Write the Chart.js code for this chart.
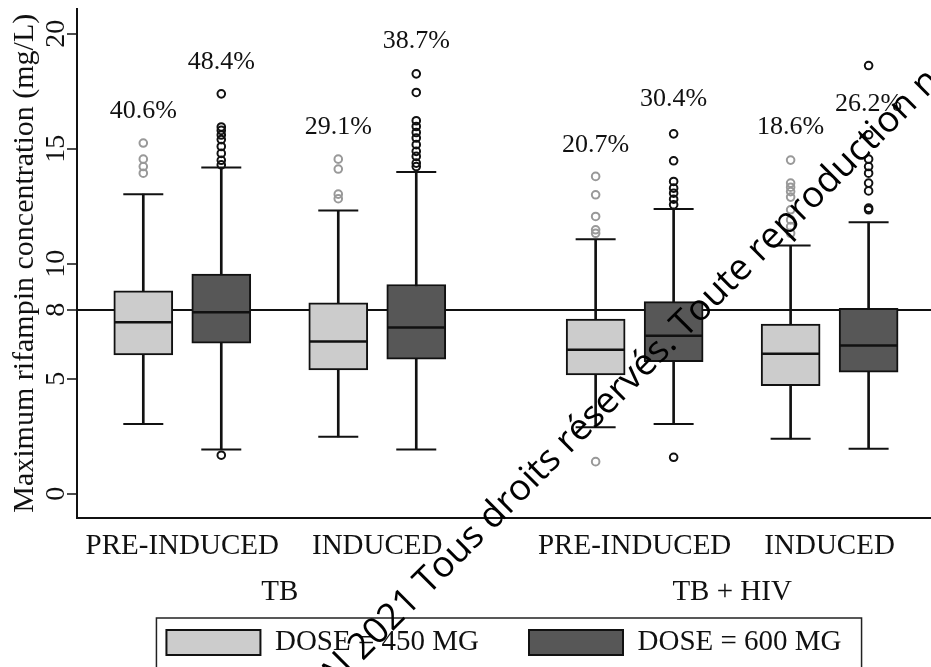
<!DOCTYPE html>
<html>
<head>
<meta charset="utf-8">
<title>Maximum rifampin concentration by dose</title>
<script src="https://cdn.jsdelivr.net/npm/chart.js@4.4.1/dist/chart.umd.min.js"></script>
<style>
  html, body { margin: 0; padding: 0; background: #fff; }
  #wrap { width: 931px; height: 667px; }
</style>
</head>
<body>
<div id="wrap"><canvas id="cmaxChart" width="931" height="667"></canvas></div>
<script>
// --- Data ---
const phases = ['PRE-INDUCED', 'INDUCED', 'PRE-INDUCED', 'INDUCED'];
const populations = ['TB', 'TB + HIV'];
const doseLabels = ['DOSE = 450 MG', 'DOSE = 600 MG'];
const yTicks = [0, 5, 8, 10, 15, 20];
const target = 8; // mg/L

// 450 mg, columns: TB pre, TB induced, TB+HIV pre, TB+HIV induced
const low450 = [3.04, 2.48, 2.90, 2.39];
const q1_450 = [6.04, 5.39, 5.17, 4.70];
const med450 = [7.46, 6.62, 6.26, 6.09];
const q3_450 = [8.83, 8.30, 7.60, 7.38];
const high450 = [13.03, 12.32, 11.07, 10.80];
const out450 = [
    [15.25, 14.55, 14.23, 13.94],
    [14.55, 14.12, 13.03, 12.83],
    [13.80, 13.00, 12.06, 11.48, 11.33, 1.40],
    [14.51, 13.51, 13.33, 13.14, 12.90, 12.35, 11.91, 11.62, 11.33]
];
const pct450 = [40.6, 29.1, 20.7, 18.6];

// 600 mg
const low600 = [1.93, 1.93, 3.04, 1.96];
const q1_600 = [6.55, 5.86, 5.75, 5.29];
const med600 = [7.90, 7.23, 6.87, 6.45];
const q3_600 = [9.55, 9.10, 8.36, 8.07];
const high600 = [14.19, 13.99, 12.38, 11.81];
const out600 = [
    [17.39, 15.95, 15.80, 15.60, 15.40, 15.10, 14.80, 14.50, 14.30, 1.68],
    [18.26, 17.45, 16.22, 15.97, 15.71, 15.47, 15.18, 14.89, 14.67, 14.38, 14.23],
    [15.65, 14.48, 13.58, 13.29, 13.07, 12.81, 12.57, 1.59],
    [18.62, 15.61, 14.55, 14.23, 13.94, 13.51, 13.17, 12.42, 12.35]
];
const pct600 = [48.4, 38.7, 30.4, 26.2];

// --- Layout ---
const SERIF = '"Liberation Serif", "Times New Roman", serif';
const INK = '#111';
const slot450 = [1, 3.5, 6.8, 9.3];
const slot600 = [2, 4.5, 7.8, 10.3];
const pairMid = slot450.map((s, i) => (s + slot600[i]) / 2);
const groupMid = [(pairMid[0] + pairMid[1]) / 2, (pairMid[2] + pairMid[3]) / 2];
const X_MIN = 0.15, X_MAX = 11.1;
// heights (in mg/L) where the percentage notes sit
const pctAt450 = [16.65, 15.93, 15.16, 15.96];
const pctAt600 = [18.76, 19.70, 17.14, 16.95];

function doseSeries(label, slots, s, fill, dot) {
    return [
        {   // whiskers
            type: 'bar', label: label + ' whisker', xAxisID: 'x',
            data: slots.map((x, i) => ({ x, y: [s.low[i], s.high[i]] })),
            backgroundColor: INK, borderWidth: 0,
            barThickness: 2, maxBarThickness: 2, grouped: false, order: 10
        },
        {   // interquartile box
            type: 'bar', label, xAxisID: 'x',
            data: slots.map((x, i) => ({ x, y: [s.q1[i], s.q3[i]] })),
            backgroundColor: fill, borderColor: INK, borderWidth: 2, borderSkipped: false,
            barThickness: 59, maxBarThickness: 59, grouped: false, order: 5
        },
        {   // median
            type: 'scatter', label: label + ' median', xAxisID: 'x',
            data: slots.map((x, i) => ({ x, y: s.med[i] })),
            pointStyle: 'line', pointRadius: 29, borderColor: INK, borderWidth: 2.5, order: 2
        },
        {   // whisker caps
            type: 'scatter', label: label + ' caps', xAxisID: 'x',
            data: slots.flatMap((x, i) => [{ x, y: s.low[i] }, { x, y: s.high[i] }]),
            pointStyle: 'line', pointRadius: 20, borderColor: INK, borderWidth: 2, order: 2
        },
        {   // outside values
            type: 'scatter', label: label + ' outliers', xAxisID: 'x',
            data: slots.flatMap((x, i) => s.out[i].map(y => ({ x, y }))),
            pointStyle: 'circle', pointRadius: 3.8, borderColor: dot, borderWidth: 2,
            backgroundColor: 'rgba(0,0,0,0)', order: 1
        }
    ];
}

const datasets = [
    ...doseSeries(doseLabels[0], slot450,
        { low: low450, q1: q1_450, med: med450, q3: q3_450, high: high450, out: out450 },
        '#cccccc', '#999999'),
    ...doseSeries(doseLabels[1], slot600,
        { low: low600, q1: q1_600, med: med600, q3: q3_600, high: high600, out: out600 },
        '#575757', INK)
];

// --- Plugins ---
const pctNotes = {
    id: 'pctNotes',
    afterDatasetsDraw(chart) {
        const { ctx, scales: { x, y } } = chart;
        ctx.save();
        ctx.font = '26px ' + SERIF;
        ctx.fillStyle = INK;
        ctx.textAlign = 'center';
        ctx.textBaseline = 'middle';
        [[slot450, pct450, pctAt450], [slot600, pct600, pctAt600]].forEach(([slots, pct, at]) => {
            slots.forEach((sx, i) => {
                ctx.fillText(pct[i].toFixed(1) + '%', x.getPixelForValue(sx), y.getPixelForValue(at[i]));
            });
        });
        ctx.restore();
    }
};

const legendFrame = {
    id: 'legendFrame',
    afterDraw(chart) {
        const hb = chart.legend && chart.legend.legendHitBoxes;
        if (!hb || !hb.length) return;
        const first = hb[0], last = hb[hb.length - 1];
        const left = first.left - 10;
        const right = last.left + last.width + 20;
        const ctx = chart.ctx;
        ctx.save();
        ctx.strokeStyle = '#222';
        ctx.lineWidth = 1.5;
        ctx.strokeRect(left, first.top - 10, right - left, 90);
        ctx.restore();
    }
};

const stamp = {
    id: 'stamp',
    afterDraw(chart) {
        const ctx = chart.ctx;
        ctx.save();
        ctx.translate(333, 691);
        ctx.rotate(-45 * Math.PI / 180);
        ctx.font = '36.5px "Open Sans", "DejaVu Sans", sans-serif';
        ctx.fillStyle = '#000';
        ctx.textAlign = 'left';
        ctx.textBaseline = 'alphabetic';
        ctx.fillText('Al 2021 Tous droits réservés. Toute reproduction n', 0, 0);
        ctx.restore();
    }
};

// --- Chart ---
new Chart(document.getElementById('cmaxChart'), {
    type: 'bar',
    data: { datasets },
    plugins: [pctNotes, legendFrame, stamp],
    options: {
        responsive: false,
        animation: false,
        events: [],
        devicePixelRatio: 1,
        layout: { autoPadding: false, padding: { top: 8.5, left: 0, right: 0, bottom: 0 } },
        plugins: {
            tooltip: { enabled: false },
            legend: {
                position: 'bottom',
                fullSize: false,
                labels: {
                    filter: item => doseLabels.includes(item.text),
                    boxWidth: 94,
                    boxHeight: 25,
                    padding: 50,
                    color: INK,
                    font: { family: SERIF, size: 29 }
                }
            }
        },
        scales: {
            x: {
                type: 'linear', position: 'bottom', weight: 0,
                min: X_MIN, max: X_MAX, offset: false,
                afterBuildTicks: s => { s.ticks = pairMid.map(v => ({ value: v })); },
                afterFit: s => { s.height = 46; s.paddingLeft = 0; s.paddingRight = 0; },
                ticks: {
                    callback: (v, i) => phases[i],
                    autoSkip: false, maxRotation: 0, padding: 11,
                    color: INK, font: { family: SERIF, size: 29 }
                },
                grid: { display: false, drawTicks: false },
                border: { display: true, color: INK, width: 2 }
            },
            // population row under the phase labels (mirrored so it is not clipped)
            x2: {
                type: 'linear', position: 'bottom', weight: 1,
                min: X_MIN, max: X_MAX, offset: false,
                afterBuildTicks: s => { s.ticks = groupMid.map(v => ({ value: v })); },
                afterFit: s => { s.height = 14; s.paddingLeft = 0; s.paddingRight = 0; },
                ticks: {
                    callback: (v, i) => populations[i],
                    autoSkip: false, maxRotation: 0, mirror: true, padding: -46,
                    color: INK, font: { family: SERIF, size: 29 }
                },
                grid: { display: false, drawTicks: false },
                border: { display: false }
            },
            y: {
                type: 'linear', min: -1.05, max: 21.1,
                afterBuildTicks: s => { s.ticks = yTicks.map(v => ({ value: v })); },
                afterFit: s => { s.width = 77; s.paddingTop = 0; s.paddingBottom = 0; },
                ticks: {
                    callback: v => String(v),
                    autoSkip: false, minRotation: 90, maxRotation: 90,
                    crossAlign: 'center', padding: -4,
                    color: INK, font: { family: SERIF, size: 28 }
                },
                grid: {
                    color: c => (c.tick && c.tick.value === target) ? INK : 'rgba(0,0,0,0)',
                    lineWidth: 2,
                    tickColor: INK,
                    tickWidth: 1.5,
                    tickLength: 10
                },
                border: { display: true, color: INK, width: 2 },
                title: {
                    display: true,
                    text: 'Maximum rifampin concentration (mg/L)',
                    color: INK,
                    font: { family: SERIF, size: 30 },
                    padding: { top: 7, bottom: 0 }
                }
            }
        }
    }
});
</script>
</body>
</html>
